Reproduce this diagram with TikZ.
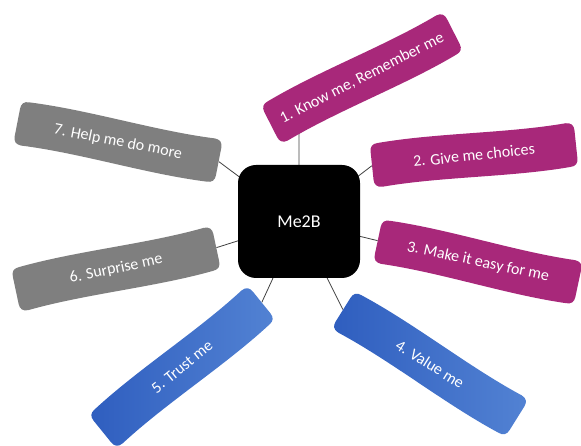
\documentclass[tikz,border=0pt]{standalone}
\usepackage{fontspec}
\setmainfont{Carlito}
\definecolor{ribmag}{HTML}{A8287A}
\definecolor{ribgray}{HTML}{7F7F7F}
\definecolor{ribblueA}{HTML}{2F5EBF}
\definecolor{ribblueB}{HTML}{5282D3}
\definecolor{conn}{HTML}{404040}
\pgfdeclarelayer{bg}
\pgfdeclarelayer{mid}
\pgfsetlayers{bg,mid,main}
\newcommand{\ribshape}{(-94.5,22) .. controls (-34,26) and (34,18) .. (94.5,22)
  .. controls (100,22) and (102.5,19) .. (102.5,14) -- (102.5,-14)
  .. controls (102.5,-19) and (100,-22) .. (94.5,-22)
  .. controls (34,-26) and (-34,-18) .. (-94.5,-22)
  .. controls (-100,-22) and (-102.5,-19) .. (-102.5,-14) -- (-102.5,14)
  .. controls (-102.5,19) and (-100,22) .. (-94.5,22) -- cycle}
\newcommand{\ribfill}[3]{%
  \begin{pgfonlayer}{mid}
  \begin{scope}[shift={(#1.center)}, rotate=#2]
  \path[#3] \ribshape;
  \end{scope}
  \end{pgfonlayer}}
\tikzset{
  ribbon/.style={minimum width=205pt, minimum height=44pt,
    inner sep=2pt, text=white, font=\fontsize{16}{18}\selectfont, anchor=center},
  magfill/.style={fill=ribmag},
  grayfill/.style={fill=ribgray},
  bluefill/.style={left color=ribblueA, right color=ribblueB},
  hub/.style={fill=black, rounded corners=18pt, minimum width=122pt, minimum height=113pt,
    text=white, font=\fontsize{18}{20}\selectfont},
  link/.style={draw=conn, line width=0.8pt}
}
\begin{document}
\begin{tikzpicture}[x=1pt,y=1pt]
\useasboundingbox (0,0) rectangle (581,446);
\node[hub] (c) at (299,224.5) {Me2B};
\node[ribbon, rotate=27] (b1) at (362,368) {1. Know me, Remember me};
\node[ribbon, rotate=6] (b2) at (474,291) {2. Give me choices};
\node[ribbon, rotate=-12] (b3) at (478,184) {3. Make it easy for me};
\node[ribbon, rotate=-32] (b4) at (430,82) {4. Value me};
\node[ribbon, rotate=39] (b5) at (182,79) {5. Trust me};
\node[ribbon, rotate=12] (b6) at (116,177) {6. Surprise me};
\node[ribbon, rotate=-11] (b7) at (118,304) {7. Help me do more};
\ribfill{b1}{27}{magfill}
\ribfill{b2}{6}{magfill}
\ribfill{b3}{-12}{magfill}
\ribfill{b4}{-32}{bluefill}
\ribfill{b5}{39}{bluefill}
\ribfill{b6}{12}{grayfill}
\ribfill{b7}{-11}{grayfill}
\begin{pgfonlayer}{bg}
\draw[link] (c.north) -- (intersection of c.north--c.center and b1.west--b1.east);
\draw[link] (c.center) -- (b2.west);
\draw[link] (c.center) -- (b3.west);
\draw[link] (c.center) -- (b4.west);
\draw[link] (c.center) -- (b5.east);
\draw[link] (c.center) -- (b6.east);
\draw[link] (c.center) -- (b7.east);
\end{pgfonlayer}
\end{tikzpicture}
\end{document}
